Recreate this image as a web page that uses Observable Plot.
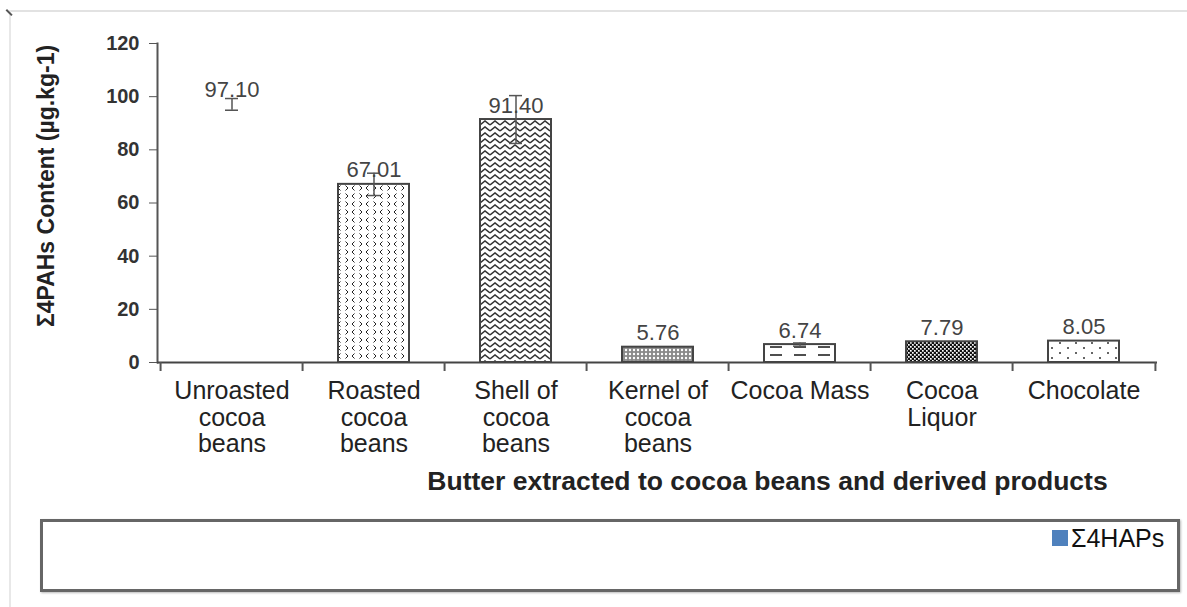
<!DOCTYPE html>
<html><head><meta charset="utf-8">
<script src="https://cdn.jsdelivr.net/npm/d3@7"></script>
<script src="https://cdn.jsdelivr.net/npm/@observablehq/plot@0.6"></script>
<style>
body{margin:0;background:#fff;font-family:"Liberation Sans",Arial,sans-serif;}
#wrap{position:relative;width:1187px;height:607px;overflow:hidden;background:#fff;}
#chart{position:absolute;left:0;top:0;}
.topline{position:absolute;left:10px;top:10px;width:1177px;height:2px;background:#e2e2e2;}
.leftline{position:absolute;left:9px;top:10px;width:2px;height:600px;background:#e8e8e8;}
.corner{position:absolute;left:7px;top:9px;width:8px;height:1.5px;background:#555;transform:rotate(45deg);transform-origin:0 0;}
#legend{position:absolute;left:40px;top:519px;width:1134px;height:67px;border:3px solid #666;box-shadow:1px 1px 2px #bbb;background:#fff;}
#legend .sw{position:absolute;left:1009px;top:8px;width:16px;height:16px;background:#4F81BD;}
#legend .lt{position:absolute;left:1028px;top:2px;font-family:"Liberation Sans Narrow","Liberation Sans",Arial,sans-serif;font-size:25px;color:#111;line-height:28px;}
#chart svg [aria-label="y-axis tick label"] text{font-weight:bold;}
</style>
</head><body>
<div id="wrap">
  <div class="topline"></div>
  <div class="leftline"></div>
  <div class="corner"></div>
  <div id="chart"></div>
  <div id="legend"><div class="sw"></div><span class="lt"></span></div>
</div>
<script>
// ---- data ----
const categories = ["Unroasted cocoa beans","Roasted cocoa beans","Shell of cocoa beans","Kernel of cocoa beans","Cocoa Mass","Cocoa Liquor","Chocolate"];
const tickLabels = ["Unroasted\ncocoa\nbeans","Roasted\ncocoa\nbeans","Shell of\ncocoa\nbeans","Kernel of\ncocoa\nbeans","Cocoa Mass","Cocoa\nLiquor","Chocolate"];
const values = [97.10, 67.01, 91.40, 5.76, 6.74, 7.79, 8.05];
const errors = [2.2, 4.2, 9.0, 0, 0.6, 0, 0];
const valueLabels = ["97.10","67.01","91.40","5.76","6.74","7.79","8.05"];
const yTicks = [0, 20, 40, 60, 80, 100, 120];
const seriesName = "Σ4HAPs";
const xTitle = "Butter extracted to cocoa beans and derived products";
const yTitle = "Σ4PAHs Content (µg.kg-1)";

// ---- styles (kept apart from data) ----
const barFills = ["none","url(#p-roasted)","url(#p-shell)","url(#p-kernel)","url(#p-mass)","url(#p-liquor)","url(#p-choc)"];
const barStrokes = ["none","#444","#444","#444","#444","#444","#444"];

const data = categories.map((c, i) => ({cat: c, v: values[i], e: errors[i], label: valueLabels[i], fillStyle: barFills[i], strokeStyle: barStrokes[i]}));
const errData = data.filter(d => d.e > 0);

const W = 1187, H = 510, ML = 157, MR = 30, MT = 43, MB = 148;
const step = (W - ML - MR) / categories.length;
const font = "'Liberation Sans', Arial, Helvetica, sans-serif";

const chart = Plot.plot({
  width: W, height: H,
  marginLeft: ML, marginRight: MR, marginTop: MT, marginBottom: MB,
  style: {fontFamily: font, background: "transparent", overflow: "visible"},
  x: {domain: categories, paddingInner: 0.5, paddingOuter: 0.25, axis: null},
  y: {domain: [0, 120], axis: null},
  color: {type: "identity"},
  marks: [
    Plot.barY(data, {x: "cat", y: "v", fill: "fillStyle", stroke: "strokeStyle", strokeWidth: 2}),
    Plot.ruleX(errData, {x: "cat", y1: d => d.v - d.e, y2: d => d.v + d.e, stroke: "#555", strokeWidth: 1.5}),
    Plot.tickY(errData, {x: "cat", y: d => d.v + d.e, stroke: "#555", strokeWidth: 1.5, insetLeft: 29, insetRight: 29}),
    Plot.tickY(errData, {x: "cat", y: d => d.v - d.e, stroke: "#555", strokeWidth: 1.5, insetLeft: 29, insetRight: 29}),
    Plot.text(data, {x: "cat", y: "v", text: "label", dy: -14, fontSize: 22, fill: "#444"}),
    Plot.axisY({ticks: yTicks, tickSize: 8, tickPadding: 10, fontSize: 20, fontWeight: "bold", stroke: "#555", fill: "#333", label: null}),
    Plot.frame({anchor: "left", stroke: "#555", strokeWidth: 2}),
    Plot.ruleY([0], {stroke: "#444", strokeWidth: 2}),
    Plot.ruleX(categories, {x: d => d, dx: -step / 2, y1: 0, y2: 0, insetBottom: -9, stroke: "#555", strokeWidth: 2}),
    Plot.ruleX([categories[categories.length - 1]], {x: d => d, dx: step / 2, y1: 0, y2: 0, insetBottom: -9, stroke: "#555", strokeWidth: 2}),
    Plot.axisX({tickSize: 0, tickPadding: 18, tickFormat: d => tickLabels[categories.indexOf(d)], fontSize: 25, fill: "#222", lineHeight: 1.06, label: null}),
    Plot.text([xTitle], {frameAnchor: "bottom", lineAnchor: "middle", textAnchor: "middle", dx: 110, dy: 119, fontSize: 26.5, fontWeight: "bold", fill: "#222"}),
    Plot.text([yTitle], {frameAnchor: "left", textAnchor: "middle", lineAnchor: "middle", rotate: -90, dx: -111, dy: -17, fontSize: 23, fontWeight: "bold", fill: "#222"})
  ]
});

// pattern definitions
const ns = "http://www.w3.org/2000/svg";
const defs = document.createElementNS(ns, "defs");
defs.innerHTML = `
<pattern id="p-roasted" patternUnits="userSpaceOnUse" width="14" height="8">
  <rect width="14" height="8" fill="#fff"/>
  <polyline points="4.5,1.5 2,4 4.5,6.5" fill="none" stroke="#222" stroke-width="1"/>
  <polyline points="9.5,1.5 12,4 9.5,6.5" fill="none" stroke="#222" stroke-width="1"/>
</pattern>
<pattern id="p-shell" patternUnits="userSpaceOnUse" width="10" height="6">
  <rect width="10" height="6" fill="#fff"/>
  <polyline points="0,5 5,1 10,5" fill="none" stroke="#333" stroke-width="1.6"/>
  <polyline points="0,11 5,7 10,11" fill="none" stroke="#333" stroke-width="1.6"/>
  <polyline points="0,-1 5,-5 10,-1" fill="none" stroke="#333" stroke-width="1.6"/>
</pattern>
<pattern id="p-kernel" patternUnits="userSpaceOnUse" width="4" height="4">
  <rect width="4" height="4" fill="#8a8a8a"/>
  <circle cx="2" cy="2" r="1.2" fill="#fff"/>
</pattern>
<pattern id="p-mass" patternUnits="userSpaceOnUse" width="24" height="8">
  <rect width="24" height="8" fill="#fff"/>
  <line x1="2" y1="3" x2="14" y2="3" stroke="#222" stroke-width="1.6"/>
</pattern>
<pattern id="p-liquor" patternUnits="userSpaceOnUse" width="4" height="4">
  <rect width="4" height="4" fill="#111"/>
  <rect x="0" y="0" width="1.7" height="1.7" fill="#fff"/>
  <rect x="2" y="2" width="1.7" height="1.7" fill="#fff"/>
</pattern>
<pattern id="p-choc" patternUnits="userSpaceOnUse" width="16" height="10">
  <rect width="16" height="10" fill="#fff"/>
  <circle cx="4" cy="3" r="1" fill="#333"/>
  <circle cx="12" cy="8" r="1" fill="#333"/>
</pattern>`;
chart.insertBefore(defs, chart.firstChild);

document.getElementById("chart").appendChild(chart);
document.querySelector("#legend .lt").textContent = seriesName;
</script>
</body></html>
